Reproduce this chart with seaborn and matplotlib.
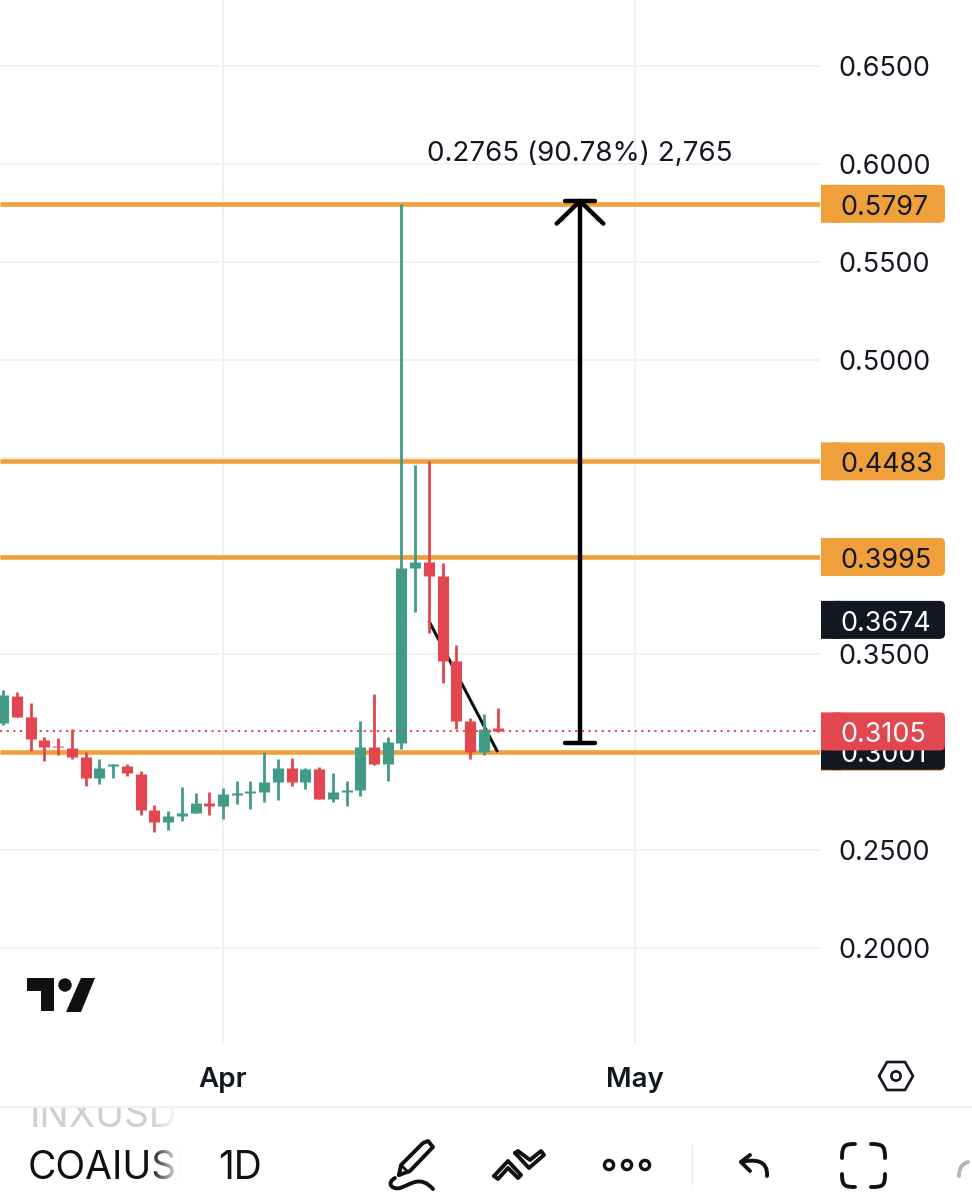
import matplotlib
matplotlib.use("Agg")
import matplotlib.dates as mdates
import matplotlib.pyplot as plt
import numpy as np
import pandas as pd
import seaborn as sns
from matplotlib.patches import Circle, FancyBboxPatch, PathPatch, Polygon, Rectangle
from matplotlib.path import Path

first_day = "2026-03-16"
opens = [.3148, .3286, .3179, .3061, .3031, .3020, .2974, .2867, .2929, .2929, .2888, .2704, .2643,
         .2673, .2689, .2740, .2724, .2781, .2791, .2796, .2847, .2918, .2847, .2913, .2760, .2796,
         .2806, .3026, .2939, .3046, .3939, .3969, .3898, .3464, .3158, .3000, .3122]
highs = [.3316, .3306, .3250, .3077, .3071, .3117, .3000, .2964, .2939, .2939, .2903, .2730, .2699,
         .2821, .2791, .2796, .2816, .2852, .2852, .3000, .2964, .2969, .2918, .2923, .2893, .2852,
         .3158, .3296, .3077, .5797, .4464, .4483, .3964, .3546, .3173, .3194, .3224]
lows = [.3138, .3179, .3005, .2954, .2985, .2964, .2827, .2837, .2867, .2878, .2679, .2592, .2602,
        .2648, .2689, .2679, .2658, .2735, .2709, .2745, .2755, .2827, .2811, .2760, .2745, .2724,
        .2776, .2934, .2852, .3015, .3714, .3607, .3352, .3117, .2964, .2985, .3102]
closes = [.3291, .3179, .3066, .3026, .3026, .2974, .2867, .2918, .2939, .2893, .2704, .2643, .2673,
          .2689, .2740, .2724, .2786, .2791, .2801, .2847, .2918, .2847, .2913, .2760, .2796, .2806,
          .3026, .2939, .3051, .3939, .3969, .3898, .3464, .3158, .3000, .3117, .3105]

levels = [.5797, .4483, .3995, .3001]
level_labels = ["0.5797", "0.4483", "0.3995"]
price_ticks = [.20, .25, .30, .35, .40, .45, .50, .55, .60, .65]
last_close = .3105
measure_base = .3046
measure_top = .5811
measure_day = "2026-04-27"
measure_text = "0.2765 (90.78%) 2,765"
trend_days = ["2026-04-16", "2026-04-21"]
trend_prices = [.3668, .3000]

GREEN = "#419b86"
RED = "#e2474f"
ORANGE = "#f0a03a"
DARK = "#131722"
FONT = "Inter"

sns.set_theme(style="whitegrid", rc={
    "grid.color": "#f0f0f1", "grid.linewidth": 1.3, "axes.edgecolor": "white",
    "lines.solid_capstyle": "butt",
})
plt.rcParams["font.family"] = [FONT, "DejaVu Sans"]

candles = pd.DataFrame({"open": opens, "high": highs, "low": lows, "close": closes})
candles["date"] = pd.date_range(first_day, periods=len(candles))
candles["candle"] = candles.index
candles["direction"] = np.where(candles["close"] >= candles["open"], "up", "down")
wicks = candles.melt(id_vars=["date", "candle", "direction"], value_vars=["low", "high"], value_name="price")
bodies = candles.melt(id_vars=["date", "candle", "direction"], value_vars=["open", "close"], value_name="price")
palette = {"up": GREEN, "down": RED}

fig = plt.figure(figsize=(9.72, 12), dpi=100)
ax = fig.add_axes([0, 157 / 1200, 820 / 972, 1043 / 1200])

for data, width in [(wicks, 2.0), (bodies, 8.0)]:
    sns.lineplot(data=data, x="date", y="price", units="candle", estimator=None, hue="direction",
                 palette=palette, linewidth=width, legend=False, zorder=3, ax=ax)

for level in levels:
    ax.axhline(level, color=ORANGE, linewidth=3.3, zorder=1.5)
ax.axhline(last_close, color=RED, linewidth=1.4, linestyle=(0, (1.1, 2.3)), zorder=4)
ax.plot(pd.to_datetime(trend_days), trend_prices, color="#111111", linewidth=2.2, zorder=1.8)

# measuring arrow
day = pd.Timestamp(measure_day)
span = pd.Timedelta(days=1.1)
head = pd.Timedelta(days=1.7)
arrow = dict(color="black", linewidth=3.2, solid_capstyle="round", zorder=5)
ax.plot([day, day], [measure_base, measure_top], **arrow)
ax.plot([day - span, day + span], [measure_base, measure_base], **arrow)
ax.plot([day - span, day + span], [measure_top, measure_top], **arrow)
ax.plot([day - head, day, day + head], [measure_top - .0115, measure_top, measure_top - .0115], **arrow)
ax.text(day, .6050, measure_text, ha="center", va="center", fontsize=20, color=DARK, zorder=6)

ax.set_xlim(pd.Timestamp("2026-03-15 18:14"), pd.Timestamp("2026-05-14 11:30"))
ax.set_ylim(.1515, .6837)
ax.set_xlabel("")
ax.set_ylabel("")
ax.xaxis.set_major_locator(mdates.MonthLocator())
ax.xaxis.set_major_formatter(mdates.DateFormatter("%b"))
ax.set_yticks(price_ticks)
ax.set_yticklabels([f"{p:.4f}" for p in price_ticks])
ax.yaxis.tick_right()
ax.tick_params(axis="y", length=0, pad=13.5, labelsize=19.4, labelcolor=DARK)
ax.tick_params(axis="x", length=0, pad=17.5, labelsize=20, labelcolor=DARK)
for label in ax.get_xticklabels():
    label.set_fontweight("semibold")
sns.despine(ax=ax, left=True, right=True, top=True, bottom=True)

# overlay in image pixels for the price badges and the app toolbar
ui = fig.add_axes([0, 0, 1, 1], facecolor="none")
ui.set_xlim(0, 972)
ui.set_ylim(1200, 0)
ui.axis("off")


def price_px(price):
    return ui.transData.inverted().transform(ax.transData.transform((0, price)))[1]


def badge(price, text, face, ink, layer):
    y = price_px(price)
    ui.add_patch(FancyBboxPatch((830, y - 19), 115, 38, boxstyle="round,pad=0,rounding_size=5",
                                facecolor=face, edgecolor="none", zorder=layer, snap=False))
    ui.add_patch(Rectangle((821, y - 19), 20, 38, facecolor=face, edgecolor="none", zorder=layer, snap=False))
    ui.text(840, y + 1, text, color=ink, fontsize=19.4, va="center_baseline", ha="left", zorder=layer + 0.1)


for price, text in zip(levels[:3], level_labels):
    badge(price, text, ORANGE, DARK, 3)
badge(.3674, "0.3674", DARK, "white", 3)
badge(.3001, "", ORANGE, DARK, 4)
badge(.3006, "0.3001", DARK, "white", 5)
badge(last_close, "0.3105", RED, "white", 6)


def stroke(xs, ys, width=2.8, color="#111111"):
    ui.plot(xs, ys, color=color, linewidth=width, solid_capstyle="round", solid_joinstyle="round")


def curve(points, width=2.8, color="#111111"):
    codes = [Path.MOVETO] + [Path.CURVE4] * (len(points) - 1)
    ui.add_patch(PathPatch(Path(points, codes), fill=False, edgecolor=color, linewidth=width, capstyle="round"))


# TradingView logo
ui.add_patch(Polygon([(27, 978), (54, 978), (54, 1011), (41, 1011), (41, 991), (27, 991)], color="#111111", lw=0))
ui.add_patch(Circle((65, 985), 6.7, color="#111111", lw=0))
ui.add_patch(Polygon([(81, 978), (95, 978), (81, 1012), (66, 1012)], color="#111111", lw=0))

# settings hexagon
stroke([879, 887, 905, 913, 905, 887, 879], [1076, 1062, 1062, 1076, 1090, 1090, 1076], 1.9, DARK)
ui.add_patch(Circle((896, 1076), 4.6, fill=False, edgecolor=DARK, lw=1.9))
ui.axhline(1107, color="#f0f0f1", linewidth=1.5)

# symbol tabs, faded on their right side
inx = ui.text(30, 1127, "INXUSD", fontsize=28, color="#cfcfcf", va="baseline")
inx.set_clip_path(Rectangle((0, 1108), 200, 40, transform=ui.transData))
inx.set_clip_on(True)
ui.text(28, 1179, "COAIUSD", fontsize=28, color="#111111", va="baseline")
fade = np.linspace(0, 1, 64).reshape(1, -1, 1)
fade = np.dstack([np.ones((1, 64, 3)), fade])
ui.imshow(fade, extent=(150, 181, 1186, 1108), aspect="auto", zorder=5)
ui.add_patch(Rectangle((181, 1108), 34, 80, color="white", lw=0, zorder=5))
ui.set_xlim(0, 972)
ui.set_ylim(1200, 0)
ui.text(218, 1179, "1D", fontsize=28, color="#111111", va="baseline", zorder=6)

# toolbar icons
stroke([399, 401, 423, 428, 433, 410, 399], [1175, 1165, 1143, 1141, 1147, 1171, 1175])
stroke([401, 408], [1165, 1172], 2.0)
curve([(395, 1178), (386, 1183), (392, 1190), (400, 1188), (412, 1184), (420, 1175), (433, 1189)])
stroke([494, 508, 521, 518, 508, 498, 494], [1176, 1161, 1175, 1178, 1168, 1179, 1176])
stroke([515, 518, 530, 541, 544, 529, 515], [1153, 1151, 1160, 1151, 1155, 1168, 1153])
for cx in [609, 627, 645]:
    ui.add_patch(Circle((cx, 1165), 4.6, fill=False, edgecolor="#111111", lw=2.4))
ui.plot([692, 692], [1145, 1185], color="#ececec", linewidth=1)
stroke([750, 741, 750], [1155, 1162, 1171])
curve([(741, 1162), (755, 1159), (768, 1160), (767, 1176)])
curve([(842, 1158), (842, 1145), (845, 1144), (855, 1144)])
curve([(871, 1144), (883, 1144), (885, 1146), (885, 1158)])
curve([(842, 1174), (842, 1186), (845, 1187), (855, 1187)])
curve([(871, 1187), (883, 1187), (885, 1186), (885, 1174)])
curve([(959, 1176), (959, 1168), (962, 1164), (968, 1162)], color="#b5b5b5")

fig.savefig("out.png", dpi=100)
